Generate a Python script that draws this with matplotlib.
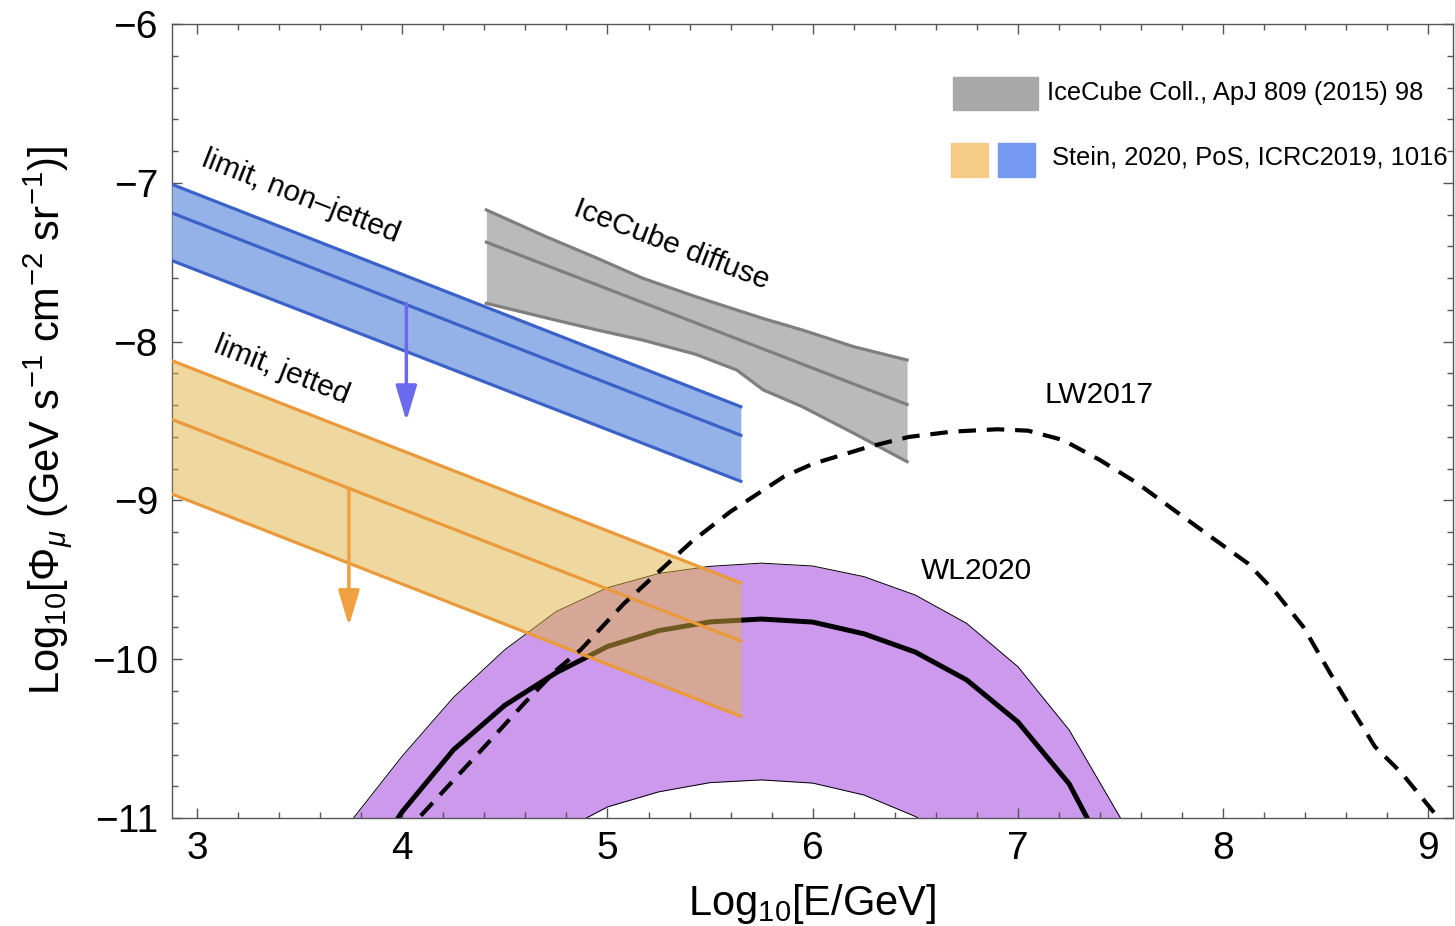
import numpy as np
import matplotlib
matplotlib.use('Agg')
import matplotlib.pyplot as plt
from matplotlib.patches import Rectangle
from matplotlib.ticker import MultipleLocator

plt.rcParams['font.family'] = ['Liberation Sans', 'DejaVu Sans']
plt.rcParams['mathtext.fontset'] = 'custom'
plt.rcParams['mathtext.rm'] = 'Liberation Sans'
plt.rcParams['mathtext.it'] = 'Liberation Sans:italic'
plt.rcParams['mathtext.bf'] = 'Liberation Sans:bold'

# Stein 2020 upper limits (straight lines, end points)
stein_x = [2.878, 5.65]
nonjet_hi = [-7.01, -8.41]
nonjet_mid = [-7.19, -8.59]
nonjet_lo = [-7.49, -8.88]
jet_hi = [-8.12, -9.52]
jet_mid = [-8.49, -9.885]
jet_lo = [-8.96, -10.36]

# limit arrows: x, y start, y end
nonjet_arrow = [4.02, -7.76, -8.50]
jet_arrow = [3.74, -8.92, -9.79]

# IceCube diffuse band
ic_x = [4.41, 4.70, 4.95, 5.17, 5.43, 5.63, 5.76, 5.95, 6.20, 6.46]
ic_hi = [-7.171, -7.339, -7.475, -7.600, -7.717, -7.801, -7.855, -7.927, -8.032, -8.116]
ic_mid = [-7.374, -7.519, -7.643, -7.753, -7.882, -7.982, -8.047, -8.142, -8.267, -8.396]
ic_lo = [-7.759, -7.850, -7.927, -7.990, -8.080, -8.179, -8.305, -8.410, -8.577, -8.756]

# WL2020 model band + central curve
wl_x = [3.75, 4.0, 4.25, 4.5, 4.75, 5.0, 5.25, 5.5, 5.75, 6.0, 6.25, 6.5, 6.75, 7.0, 7.25, 7.5]
wl_mid = [-11.45, -10.96, -10.57, -10.29, -10.085, -9.92, -9.82, -9.765, -9.747, -9.766,
          -9.84, -9.955, -10.13, -10.395, -10.785, -11.4]
wl_hi = [-11.02, -10.61, -10.24, -9.94, -9.70, -9.55, -9.46, -9.415, -9.395, -9.413,
         -9.48, -9.596, -9.774, -10.047, -10.446, -11.0]
wl_lo = [-12.0, -12.0, -12.0, -12.0, -11.1, -10.93, -10.835, -10.777, -10.76, -10.78,
         -10.855, -10.99, -11.2, -12.0, -12.0, -12.0]

# LW2017 model
lw_x = [4.0, 4.08, 4.38, 4.6, 4.75, 4.87, 5.08, 5.41, 5.6, 5.86, 6.0, 6.28, 6.47, 6.68,
        6.9, 7.05, 7.22, 7.4, 7.58, 7.76, 7.94, 8.12, 8.26, 8.39, 8.56, 8.74, 8.87, 9.03, 9.1]
lw_y = [-11.12, -11.0, -10.58, -10.27, -10.07, -9.94, -9.65, -9.26, -9.07, -8.85, -8.77,
        -8.66, -8.60, -8.567, -8.552, -8.561, -8.62, -8.746, -8.89, -9.06, -9.229, -9.396,
        -9.585, -9.795, -10.173, -10.551, -10.717, -10.969, -11.08]

fig = plt.figure(figsize=(14.55, 9.26), dpi=100)
ax = fig.add_axes([0.1182, 0.1166, 0.8804, 0.8575])

# WL2020
ax.fill_between(wl_x, wl_lo, wl_hi, color='#cc99ec', lw=0, zorder=1)
ax.plot(wl_x, wl_hi, color='k', lw=0.7, zorder=1.5)
ax.plot(wl_x, wl_lo, color='k', lw=0.7, zorder=1.5)
ax.plot(wl_x, wl_mid, color='k', lw=3.6, zorder=2, solid_joinstyle='miter')

# jetted limit (orange, semi transparent over WL band)
ax.fill_between(stein_x, jet_lo, jet_hi, color='#e1b341', alpha=0.5, lw=0, zorder=3)
for yy in (jet_hi, jet_mid, jet_lo):
    ax.plot(stein_x, yy, color='#ea9a3a', lw=2.3, zorder=3.5)

# non-jetted limit (blue)
ax.fill_between(stein_x, nonjet_lo, nonjet_hi, color='#94b1e8', lw=0, zorder=3)
for yy in (nonjet_hi, nonjet_mid, nonjet_lo):
    ax.plot(stein_x, yy, color='#3a62c8', lw=2.3, zorder=3.5)

# IceCube diffuse
ax.fill_between(ic_x, ic_lo, ic_hi, color='#bababa', lw=0, zorder=3)
for yy in (ic_hi, ic_mid, ic_lo):
    ax.plot(ic_x, yy, color='#7f7f7f', lw=2.3, zorder=3.5)

# LW2017 dashed
ax.plot(lw_x, lw_y, color='k', lw=3.0, ls=(0, (4.2, 2.6)), zorder=4)

# arrows
for arr, col in ((nonjet_arrow, '#6a6aee'), (jet_arrow, '#f0a040')):
    ax.annotate('', xy=(arr[0], arr[2]), xytext=(arr[0], arr[1]),
                arrowprops=dict(arrowstyle='-|>,head_length=0.8,head_width=0.24',
                                color=col, lw=2.5, mutation_scale=27,
                                shrinkA=0, shrinkB=0), zorder=5)

# labels in plot
txt = dict(fontsize=21.5, ha='center', va='center', rotation_mode='anchor')
ax.text(3.507, -7.083, 'limit, non\u2013jetted', rotation=-21.5, **txt)
ax.text(3.414, -8.179, 'limit, jetted', rotation=-21.5, **txt)
ax.text(5.31, -7.392, 'IceCube diffuse', rotation=-21, **txt)
ax.text(7.396, -8.336, 'LW2017', **txt)
ax.text(6.80, -9.445, 'WL2020', **txt)

# legend (manual)
fig.patches.append(Rectangle((0.655, 0.8812), 0.0584, 0.0356, transform=fig.transFigure,
                             color='#a8a8a8', zorder=10))
fig.patches.append(Rectangle((0.6536, 0.8089), 0.0254, 0.0367, transform=fig.transFigure,
                             color='#f5cb85', zorder=10))
fig.patches.append(Rectangle((0.6859, 0.8089), 0.0254, 0.0367, transform=fig.transFigure,
                             color='#7598f0', zorder=10))
fig.text(0.7196, 0.8996, 'IceCube Coll., ApJ 809 (2015) 98', fontsize=18.4, va='center', ha='left')
fig.text(0.7230, 0.8294, 'Stein, 2020, PoS, ICRC2019, 1016', fontsize=18.4, va='center', ha='left')

ax.set_xlim(2.878, 9.12)
ax.set_ylim(-11, -6)
ax.xaxis.set_major_locator(MultipleLocator(1))
ax.xaxis.set_minor_locator(MultipleLocator(0.2))
ax.yaxis.set_major_locator(MultipleLocator(1))
ax.yaxis.set_minor_locator(MultipleLocator(0.2))
ax.tick_params(which='both', direction='in', top=True, right=True, color='#555555', width=1)
ax.tick_params(which='major', length=7, labelsize=28)
ax.tick_params(axis='x', which='major', pad=9)
ax.tick_params(axis='y', which='major', pad=10)
ax.tick_params(which='minor', length=4)
for s in ax.spines.values():
    s.set_color('#555555')
    s.set_linewidth(1)

ax.set_xlabel('Log$_{10}$[E/GeV]', fontsize=30)
ax.set_ylabel(r'Log$_{10}$[$\Phi_{\mu}$ (GeV s$^{-1}$ cm$^{-2}$ sr$^{-1}$)]', fontsize=30)
ax.xaxis.set_label_coords(0.5, -0.081)
ax.yaxis.set_label_coords(-0.076, 0.5)

fig.savefig('out.png', dpi=100)
